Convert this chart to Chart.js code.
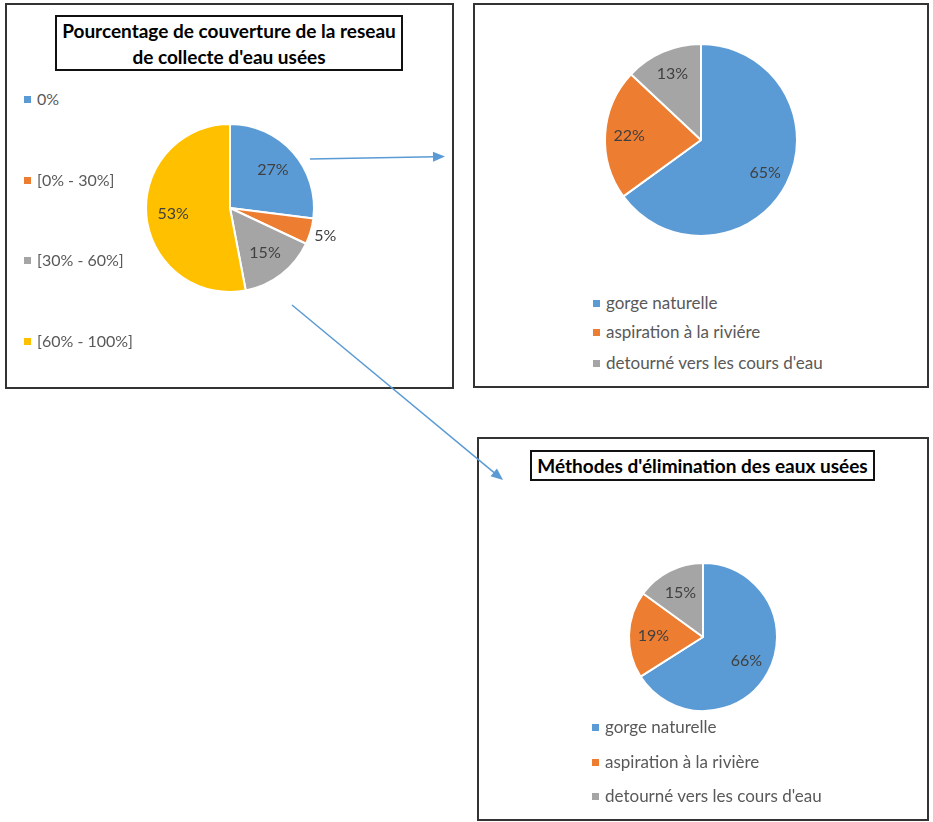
<!DOCTYPE html>
<html>
<head>
<meta charset="utf-8">
<script src="https://cdn.jsdelivr.net/npm/chart.js"></script>
<style>
  body { margin: 0; background: #fff; font-family: Lato, sans-serif; }
  #page { position: relative; width: 933px; height: 822px; overflow: hidden; }
  .panel { position: absolute; box-sizing: border-box; border: 2px solid #333; background: #fff; }
  .title { position: absolute; box-sizing: border-box; border: 2px solid #111; font-weight: bold;
           font-size: 19px; color: #000; text-align: center; }
  canvas { position: absolute; }
  .legend { position: absolute; color: #595959; }
  .legend div { position: absolute; white-space: nowrap; line-height: 20px; }
  .legend span { display: inline-block; width: 7px; height: 7px; margin-right: 6px; vertical-align: 2px; }
  #arrows { position: absolute; left: 0; top: 0; }
</style>
</head>
<body>
<div id="page">
  <div class="panel" style="left:5px;top:3px;width:449px;height:386px"></div>
  <div class="panel" style="left:473px;top:3px;width:456px;height:385px"></div>
  <div class="panel" style="left:477px;top:437px;width:452px;height:384px"></div>

  <div class="title" style="left:55px;top:15px;width:348px;height:56px;line-height:26px;padding-top:1px">
    Pourcentage de couverture de la reseau<br>de collecte d'eau usées</div>
  <div class="title" style="left:530px;top:450px;width:345px;height:31px;line-height:27px">
    Méthodes d'élimination des eaux usées</div>

  <canvas id="pie1" width="260" height="260" style="left:100px;top:78px"></canvas>
  <canvas id="pie2" width="240" height="240" style="left:581px;top:20px"></canvas>
  <canvas id="pie3" width="200" height="200" style="left:603px;top:537px"></canvas>

  <div class="legend" id="leg1"></div>
  <div class="legend" id="leg2"></div>
  <div class="legend" id="leg3"></div>

  <canvas id="arrows" width="933" height="822"></canvas>
</div>

<script>
// data
var couvertureLabels = ['0%', '[0% - 30%]', '[30% - 60%]', '[60% - 100%]'];
var couvertureValues = [27, 5, 15, 53];

var methodeLabels = ['gorge naturelle', 'aspiration à la riviére', "detourné vers les cours d'eau"];
var methodeValues0 = [65, 22, 13];

var methodeLabels2 = ['gorge naturelle', 'aspiration à la rivière', "detourné vers les cours d'eau"];
var methodeValues = [66, 19, 15];

var colors = ['#5B9BD5', '#ED7D31', '#A5A5A5', '#FFC000'];

// draws the "NN%" text on each slice
var sliceLabels = {
  id: 'sliceLabels',
  afterDatasetsDraw: function(chart, args, opts) {
    var ctx = chart.ctx;
    var meta = chart.getDatasetMeta(0);
    var values = chart.data.datasets[0].data;
    ctx.save();
    ctx.font = '16px Lato';
    ctx.fillStyle = '#404040';
    ctx.textAlign = 'center';
    ctx.textBaseline = 'middle';
    meta.data.forEach(function(arc, i) {
      var p = arc.getProps(['x', 'y', 'startAngle', 'endAngle', 'outerRadius'], true);
      var mid = (p.startAngle + p.endAngle) / 2;
      var f = (opts.outside || []).indexOf(i) >= 0 ? opts.outerFactor : opts.factor;
      ctx.fillText(values[i] + '%', p.x + Math.cos(mid) * p.outerRadius * f,
                   p.y + Math.sin(mid) * p.outerRadius * f);
    });
    ctx.restore();
  }
};

function makePie(id, labels, values, radius, labelOpts) {
  return new Chart(document.getElementById(id).getContext('2d'), {
    type: 'pie',
    data: {
      labels: labels,
      datasets: [{
        data: values,
        backgroundColor: colors.slice(0, values.length),
        borderColor: '#fff',
        borderWidth: 2,
        radius: radius
      }]
    },
    options: {
      responsive: false,
      animation: false,
      plugins: { legend: { display: false }, tooltip: { enabled: false }, sliceLabels: labelOpts }
    },
    plugins: [sliceLabels]
  });
}

makePie('pie1', couvertureLabels, couvertureValues, 84, { factor: 0.68, outerFactor: 1.18, outside: [1] });
makePie('pie2', methodeLabels, methodeValues0, 96, { factor: 0.75 });
makePie('pie3', methodeLabels2, methodeValues, 74, { factor: 0.67 });

// html legends built from the same arrays
function makeLegend(id, labels, left, tops, size) {
  var el = document.getElementById(id);
  el.style.left = left + 'px';
  el.style.fontSize = size + 'px';
  labels.forEach(function(lab, i) {
    var row = document.createElement('div');
    row.style.top = (tops[i] - 10) + 'px';
    row.innerHTML = '<span style="background:' + colors[i] + '"></span>' + lab;
    el.appendChild(row);
  });
}
makeLegend('leg1', couvertureLabels, 24, [99, 180, 260, 341], 16);
makeLegend('leg2', methodeLabels, 593, [303, 332, 363], 17);
makeLegend('leg3', methodeLabels2, 592, [727, 762, 796], 17);

// connector arrows
var actx = document.getElementById('arrows').getContext('2d');
function arrow(x1, y1, x2, y2) {
  var a = Math.atan2(y2 - y1, x2 - x1);
  actx.strokeStyle = '#5B9BD5';
  actx.fillStyle = '#5B9BD5';
  actx.lineWidth = 1.5;
  actx.beginPath();
  actx.moveTo(x1, y1);
  actx.lineTo(x2 - Math.cos(a) * 10, y2 - Math.sin(a) * 10);
  actx.stroke();
  actx.beginPath();
  actx.moveTo(x2, y2);
  actx.lineTo(x2 - Math.cos(a) * 12 - Math.sin(a) * 5, y2 - Math.sin(a) * 12 + Math.cos(a) * 5);
  actx.lineTo(x2 - Math.cos(a) * 12 + Math.sin(a) * 5, y2 - Math.sin(a) * 12 - Math.cos(a) * 5);
  actx.closePath();
  actx.fill();
}
arrow(310, 159, 445, 156.5);
arrow(292, 305, 503, 480);
</script>
</body>
</html>
